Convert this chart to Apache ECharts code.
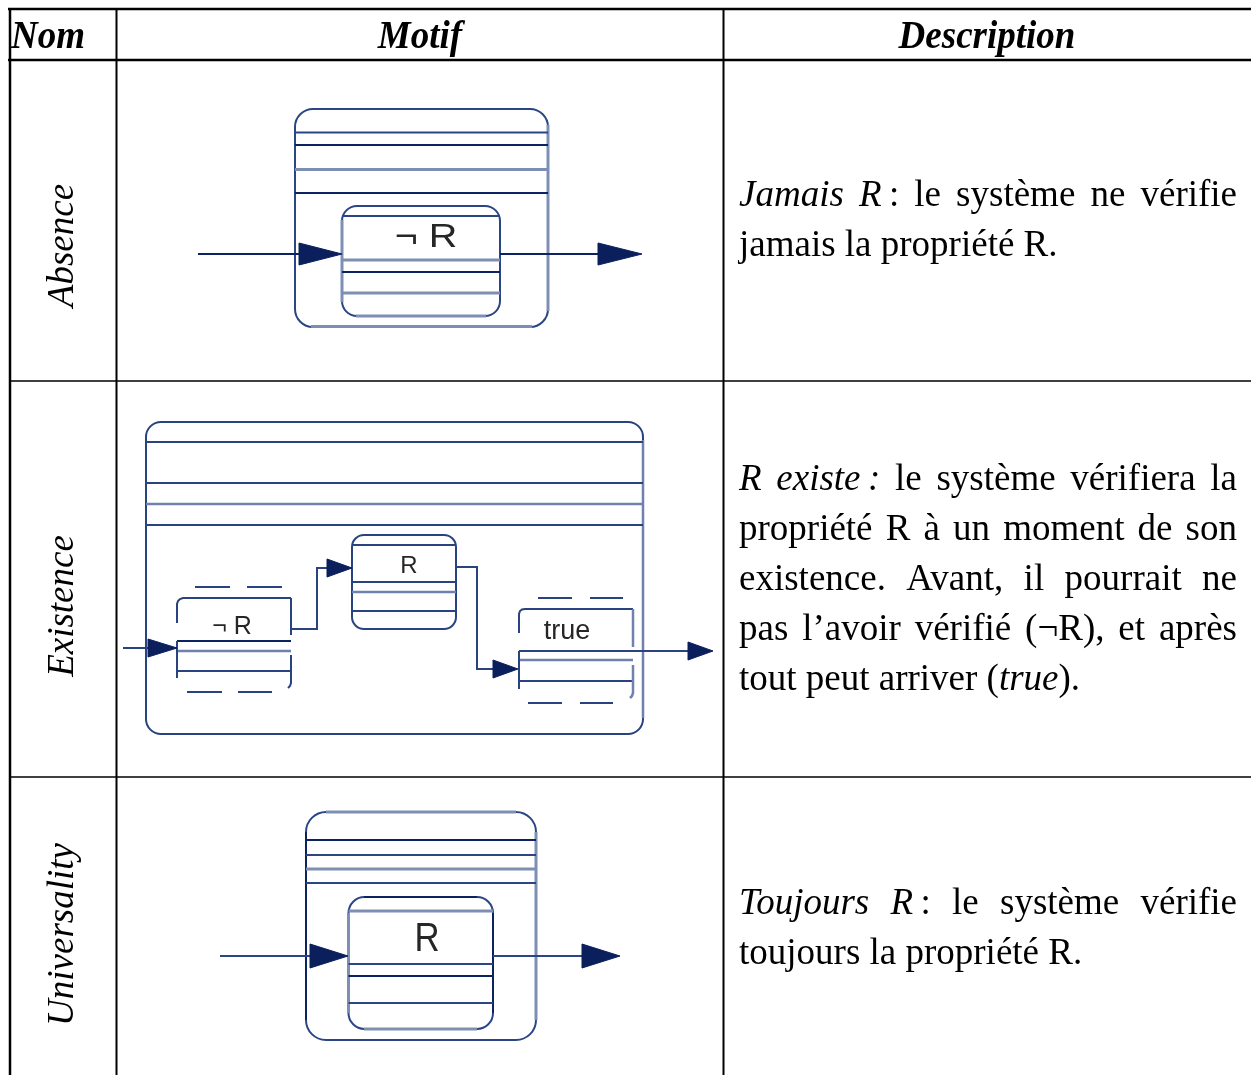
<!DOCTYPE html>
<html><head><meta charset="utf-8">
<script src="https://cdn.jsdelivr.net/npm/echarts@6/dist/echarts.min.js"></script>
<style>html,body{margin:0;padding:0;background:#fff}#c{width:1251px;height:1075px}</style>
</head><body><div id="c"></div>
<script>
// ---------- data ----------
const headers = ['Nom', 'Motif', 'Description'];
const patternNames = ['Absence', 'Existence', 'Universality'];
const absenceLabels = ['¬ R'];
const existenceLabels = ['¬ R', 'R', 'true'];
const universalityLabels = ['R'];
const descAbsence = ['*Jamais R*\u202F: le système ne vérifie', 'jamais la propriété R.'];
const descExistence = ['*R existe\u202F:* le système vérifiera la', 'propriété R à un moment de son',
  'existence. Avant, il pourrait ne', 'pas l’avoir vérifié (¬R), et après', 'tout peut arriver (*true*).'];
const descUniversality = ['*Toujours R*\u202F: le système vérifie', 'toujours la propriété R.'];

// ---------- helpers ----------
const G = [];
const K = 0.34; // baseline offset factor for 'middle' (sans)
const KS = 0.23; // serif
const SERIF = '"Liberation Serif","Times New Roman",serif';
const SANS = '"Liberation Sans",Arial,sans-serif';
const cv = document.createElement('canvas').getContext('2d');
function measure(t, font) { cv.font = font; return cv.measureText(t).width; }
function T(text, x, base, font, size, o) {
  o = o || {};
  const k = o.k !== undefined ? o.k : K;
  G.push({type: 'text', x: x, y: base - k * size, rotation: o.rot || 0, scaleX: o.sx || 1, scaleY: o.sy || 1,
    style: {text: text, font: font, fill: o.fill || '#000', align: o.align || 'left', verticalAlign: 'middle',
      textAlign: o.align || 'left', textVerticalAlign: 'middle'}, z: 10});
}
const DK = {stroke: '#0b2360', lineWidth: 2};
const MD = {stroke: '#2b4685', lineWidth: 2};
const LT = {stroke: '#7e8fb4', lineWidth: 3};
const EX = {stroke: '#28437f', lineWidth: 2};
const EL = {stroke: '#6f82ad', lineWidth: 2.5};
function L(x1, y1, x2, y2, st) { G.push({type: 'line', shape: {x1, y1, x2, y2}, style: Object.assign({fill: null}, st)}); }
function P(pts, st) { G.push({type: 'polyline', shape: {points: pts}, style: Object.assign({fill: null}, st)}); }
function RR(x, y, w, h, r, st) { G.push({type: 'rect', shape: {x, y, width: w, height: h, r: r}, style: Object.assign({fill: 'none'}, st)}); }
function AH(bx, tx, y, h) { G.push({type: 'polygon', shape: {points: [[bx, y - h], [tx, y], [bx, y + h]]}, style: {fill: '#0a1f5c', stroke: '#0a1f5c', lineWidth: 1}, z: 5}); }

// ---------- table grid ----------
const BK = {stroke: '#000', lineWidth: 2.5};
L(8, 9, 1251, 9, BK);
L(8, 60, 1251, 60, BK);
L(10, 8, 10, 1075, BK);
L(116.5, 8, 116.5, 1075, {stroke: '#000', lineWidth: 2});
L(723.5, 8, 723.5, 1075, {stroke: '#000', lineWidth: 2});
L(10, 381, 1251, 381, {stroke: '#000', lineWidth: 1.6});
L(10, 777, 1251, 777, {stroke: '#000', lineWidth: 1.6});

// headers
const HF = 'italic bold 37px ' + SERIF;
T(headers[0], 11, 46, HF, 37, {k: KS, sy: 1.08});
T(headers[1], 420, 46, HF, 37, {align: 'center', k: KS, sy: 1.08});
T(headers[2], 987, 46, HF, 37, {align: 'center', k: KS, sy: 1.08});

// vertical names
const NF = 'italic 37px ' + SERIF;
const nameCenters = [245.5, 606, 934.5];
patternNames.forEach((n, i) => {
  G.push({type: 'text', x: 63, y: nameCenters[i], rotation: Math.PI / 2,
    style: {text: n, font: NF, fill: '#000', align: 'center', verticalAlign: 'middle', textAlign: 'center', textVerticalAlign: 'middle'}});
});

// descriptions (justified)
function para(lines, baselines, x0, x1) {
  lines.forEach((line, li) => {
    let ital = false;
    const words = line.split(' ').map(w => {
      const runs = [];
      let cur = '';
      for (const ch of w) {
        if (ch === '*') { if (cur) runs.push({t: cur, i: ital}); cur = ''; ital = !ital; }
        else cur += ch;
      }
      if (cur) runs.push({t: cur, i: ital});
      return runs;
    });
    const fnt = i => (i ? 'italic ' : '') + '37px ' + SERIF;
    let tot = 0;
    words.forEach(w => w.forEach(r => { r.w = measure(r.t, fnt(r.i)); tot += r.w; }));
    const last = li === lines.length - 1;
    const gap = (!last && words.length > 1) ? (x1 - x0 - tot) / (words.length - 1) : measure(' ', fnt(false));
    let x = x0;
    words.forEach(w => {
      w.forEach(r => { T(r.t, x, baselines[li], fnt(r.i), 37, {k: KS}); x += r.w; });
      x += gap;
    });
  });
}
para(descAbsence, [205, 255], 739, 1237);
para(descExistence, [489, 539, 589, 639, 689], 739, 1237);
para(descUniversality, [913, 963], 739, 1237);

// ---------- Absence motif ----------
RR(295, 109, 253, 218, 18, MD);
L(548, 125, 548, 311, LT); L(311, 326.5, 532, 326.5, LT);
L(295, 132.5, 548, 132.5, MD);
L(295, 145, 548, 145, DK);
L(295, 169.5, 548, 169.5, LT);
L(295, 193, 548, 193, DK);
RR(342, 206, 158, 110, 15, MD);
L(342, 220, 342, 302, LT); L(356, 316, 486, 316, LT);
L(342, 216, 500, 216, MD);
L(342, 260, 500, 260, LT);
L(342, 272, 500, 272, DK);
L(342, 293, 500, 293, LT);
T(absenceLabels[0], 426, 249, '33px ' + SANS, 33, {align: 'center', fill: '#262626', sx: 1.2});
L(198, 254, 300, 254, DK); AH(299, 342, 254, 11);
L(500, 254, 599, 254, DK); AH(598, 642, 254, 11);

// ---------- Existence motif ----------
RR(146, 422, 497, 312, 15, EX);
L(643, 440, 643, 718, EL);
[442, 483, 525].forEach(y => L(146, y, 643, y, EX));
L(146, 504, 643, 504, EL);
// ¬R box
L(195, 587, 230, 587, EX); L(247, 587, 282, 587, EX);
P([[177, 623], [177, 604], [178, 601], [180, 599], [183, 598], [291, 598]], EX);
L(291, 598, 291, 635, EX);
L(177, 641, 291, 641, DK);
L(177, 651, 291, 651, EL);
L(177, 671, 291, 671, EX);
L(177, 641, 177, 678, EX);
P([[291, 655], [291, 683], [290, 686], [288, 688]], EX);
L(187, 692, 222, 692, EX); L(238, 692, 272, 692, EX);
T(existenceLabels[0], 232, 636, '25px ' + SANS, 25, {align: 'center', fill: '#262626'});
// entry arrow
L(123, 648, 149, 648, EX); AH(148, 177, 648, 9);
// connector 1
P([[291, 629], [317, 629], [317, 568], [328, 568]], EX); AH(327, 352, 568, 9);
// R box
RR(352, 535, 104, 94, 12, EX);
[545, 582, 611].forEach(y => L(352, y, 456, y, EX));
L(352, 592, 456, 592, EL);
T(existenceLabels[1], 409, 575, '24px ' + SANS, 24, {align: 'center', fill: '#262626'});
// connector 2
P([[456, 567], [477, 567], [477, 669], [494, 669]], EX); AH(493, 518, 669, 9);
// true box
L(538, 598, 572, 598, EX); L(590, 598, 623, 598, EX);
P([[519, 633], [519, 614], [520, 611], [522, 609.5], [525, 609], [633, 609]], EX);
L(633, 609, 633, 647, EL);
L(519, 651, 689, 651, EX); AH(688, 713, 651, 9);
L(519, 660, 633, 660, EL);
L(519, 681, 633, 681, EX);
L(519, 651, 519, 689, EX);
P([[633, 665], [633, 693], [632, 696], [630, 698]], EL);
L(528, 703, 562, 703, EX); L(580, 703, 613, 703, EX);
T(existenceLabels[2], 567, 641, '27px ' + SANS, 27, {align: 'center', fill: '#262626'});

// ---------- Universality motif ----------
RR(306, 812, 230, 228, 20, MD);
L(306, 832, 306, 1020, DK);
L(326, 812, 516, 812, LT); L(536, 832, 536, 1020, LT);
L(306, 840, 536, 840, DK);
L(306, 855, 536, 855, MD);
L(306, 869, 536, 869, LT);
L(306, 883, 536, 883, MD);
RR(348.5, 897, 144.5, 132, 16, MD);
L(348.5, 913, 348.5, 1013, LT); L(364, 1029, 477, 1029, LT);
L(364, 897, 477, 897, DK); L(493, 913, 493, 1013, DK);
L(348.5, 911, 493, 911, LT);
L(348.5, 964, 493, 964, MD);
L(348.5, 976, 493, 976, DK);
L(348.5, 1003, 493, 1003, MD);
T(universalityLabels[0], 427, 954, '40px ' + SANS, 40, {align: 'center', fill: '#262626', sx: 0.87});
L(220, 956, 311, 956, MD); AH(310, 348, 956, 12);
L(493, 956, 583, 956, MD); AH(582, 620, 956, 12);

const chart = echarts.init(document.getElementById('c'), null, {renderer: 'canvas'});
chart.setOption({backgroundColor: '#fff', animation: false, graphic: {elements: G}});
</script></body></html>
